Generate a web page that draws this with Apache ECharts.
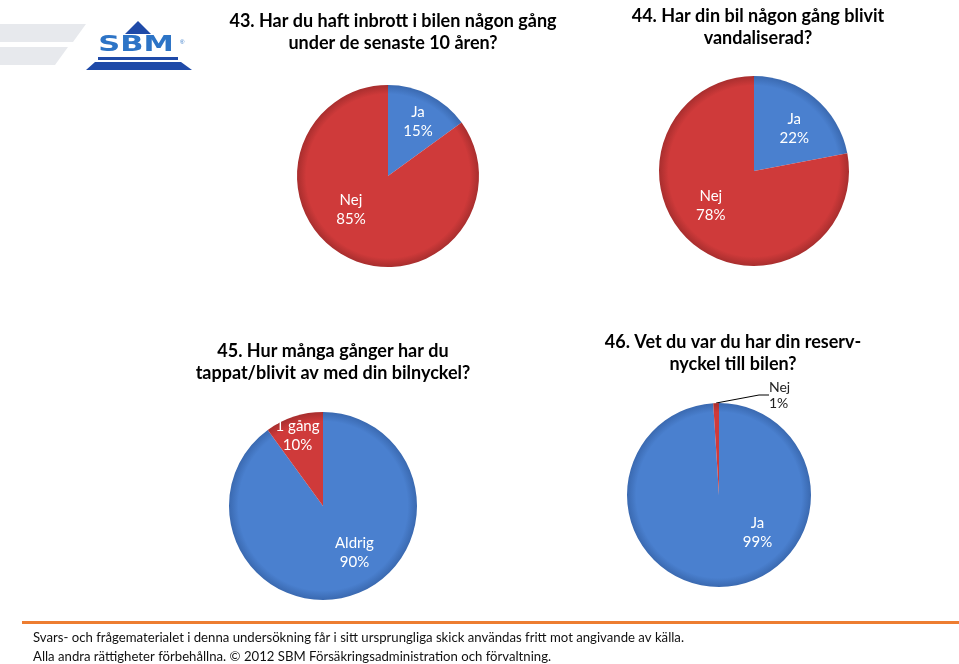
<!DOCTYPE html>
<html><head><meta charset="utf-8">
<script src="https://cdn.jsdelivr.net/npm/echarts@6/dist/echarts.min.js"></script>
<style>html,body{margin:0;padding:0;background:#fff}#c{width:959px;height:664px}</style>
</head><body><div id="c"></div>
<script>
// ---- data ----
const q43Categories = ['Ja', 'Nej'];
const q43Values = [15, 85];
const q44Categories = ['Ja', 'Nej'];
const q44Values = [22, 78];
const q45Categories = ['Aldrig', '1 gång'];
const q45Values = [90, 10];
const q46Categories = ['Ja', 'Nej'];
const q46Values = [99, 1];
const titles = [
  '43. Har du haft inbrott i bilen någon gång\nunder de senaste 10 åren?',
  '44. Har din bil någon gång blivit\nvandaliserad?',
  '45. Hur många gånger har du\ntappat/blivit av med din bilnyckel?',
  '46. Vet du var du har din reserv-\nnyckel till bilen?'
];
const footerLines = [
  'Svars- och frågematerialet i denna undersökning får i sitt ursprungliga skick användas fritt mot angivande av källa.',
  'Alla andra rättigheter förbehållna. © 2012 SBM Försäkringsadministration och förvaltning.'
];

// ---- styles ----
const BLUE = '#4a80cf', BLUE_D = '#3a69b0', RED = '#cf3a3a', RED_D = '#a82e2e';
const FONT = 'Lato, "Open Sans", sans-serif';
function rim(center, r, c, dark) {
  return { type: 'radial', x: center[0], y: center[1], r: r, global: true,
    colorStops: [{offset: 0, color: c}, {offset: 0.9, color: c}, {offset: 1, color: dark}] };
}
const labelFont = { color: '#fff', fontSize: 15, lineHeight: 19, fontFamily: FONT };

function pieSeries(center, radius, cats, vals, offsets) {
  const fills = [rim(center, radius, BLUE, BLUE_D), rim(center, radius, RED, RED_D)];
  return {
    type: 'pie', center: center, radius: radius, startAngle: 90, clockwise: true,
    silent: true, animation: false,
    itemStyle: { borderWidth: 0 },
    label: Object.assign({ show: true, position: 'inside', formatter: '{b}\n{d}%' }, labelFont),
    labelLine: { show: false },
    data: cats.map((n, i) => ({ name: n, value: vals[i], itemStyle: { color: fills[i] }, label: { offset: offsets[i] } }))
  };
}

const chart = echarts.init(document.getElementById('c'), null, { renderer: 'canvas' });
const titleStyle = { fontSize: 18, fontWeight: 'bold', color: '#000', lineHeight: 22, fontFamily: FONT };

const c46 = [719, 495], r46 = 92;
const fills46 = [rim(c46, r46, BLUE, BLUE_D), rim(c46, r46, RED, RED_D)];
const s46 = {
  type: 'pie', center: c46, radius: r46, startAngle: 90, clockwise: true,
  silent: true, animation: false,
  label: Object.assign({ show: true, position: 'inside', formatter: '{b}\n{d}%' }, labelFont),
  labelLine: { show: false },
  data: q46Categories.map((n, i) => {
    const d = { name: n, value: q46Values[i], itemStyle: { color: fills46[i] } };
    if (i === 0) d.label = { offset: [37, -11] };
    else {
      d.label = { position: 'outside', color: '#222', fontSize: 14, lineHeight: 16, align: 'left' };
      d.labelLine = { show: true, length: 6, length2: 10, lineStyle: { color: '#000', width: 1 } };
    }
    return d;
  }),
  labelLayout: function (p) {
    if (p.dataIndex !== 1) return {};
    return { x: p.rect.x + p.rect.width + 50, y: p.rect.y - 8, align: 'left', verticalAlign: 'middle' };
  }
};

// fit footer text width to the reference line length
const mctx = document.createElement('canvas').getContext('2d');
mctx.font = '14px ' + FONT;
const footerScale = 651 / mctx.measureText(footerLines[0]).width;

chart.setOption({
  animation: false,
  title: [
    { text: titles[0], left: 388, top: 5, textAlign: 'center', textStyle: titleStyle },
    { text: titles[1], left: 753, top: 0, textAlign: 'center', textStyle: titleStyle },
    { text: titles[2], left: 328, top: 335, textAlign: 'center', textStyle: titleStyle },
    { text: titles[3], left: 728, top: 326, textAlign: 'center', textStyle: titleStyle }
  ],
  series: [
    pieSeries([388, 176], 91, q43Categories, q43Values, [[8, -11], [-15, -10]]),
    pieSeries([754, 171], 95, q44Categories, q44Values, [[8, -3], [-11, -4]]),
    pieSeries([323, 506], 94, q45Categories, q45Values, [[16, -1], [-10, -23]]),
    s46
  ],
  graphic: [
    // grey decorative bands
    { type: 'polygon', shape: { points: [[0, 24], [86, 24], [73, 42], [0, 42]] }, style: { fill: '#e7e9ed' }, silent: true },
    { type: 'polygon', shape: { points: [[0, 47], [68, 47], [55, 65], [0, 65]] }, style: { fill: '#e7e9ed' }, silent: true },
    // SBM logo
    { type: 'polygon', shape: { points: [[138, 21], [151, 34], [125, 34]] }, style: { fill: '#1f4aa8' }, silent: true },
    { type: 'text', x: 136, y: 46, scaleX: 1.45, style: { text: 'SBM', font: 'bold 21px "DejaVu Sans", sans-serif', fill: '#2d74c6', align: 'center', verticalAlign: 'middle' }, silent: true },
    { type: 'text', x: 180, y: 39, style: { text: '®', font: '6px sans-serif', fill: '#2d74c6' }, silent: true },
    { type: 'rect', shape: { x: 98, y: 57, width: 80, height: 3 }, style: { fill: '#1f4aa8' }, silent: true },
    { type: 'polygon', shape: { points: [[95, 62], [181, 62], [192, 70], [86, 70]] }, style: { fill: '#1f4aa8' }, silent: true },
    // footer
    { type: 'rect', shape: { x: 22, y: 621, width: 937, height: 3 }, style: { fill: '#ed7d31' }, silent: true },
    { type: 'text', x: 33, y: 637, scaleX: footerScale, style: { text: footerLines[0], font: '14px ' + FONT, fill: '#111', verticalAlign: 'middle' }, silent: true },
    { type: 'text', x: 33, y: 656, scaleX: footerScale, style: { text: footerLines[1], font: '14px ' + FONT, fill: '#111', verticalAlign: 'middle' }, silent: true }
  ]
});
</script></body></html>
